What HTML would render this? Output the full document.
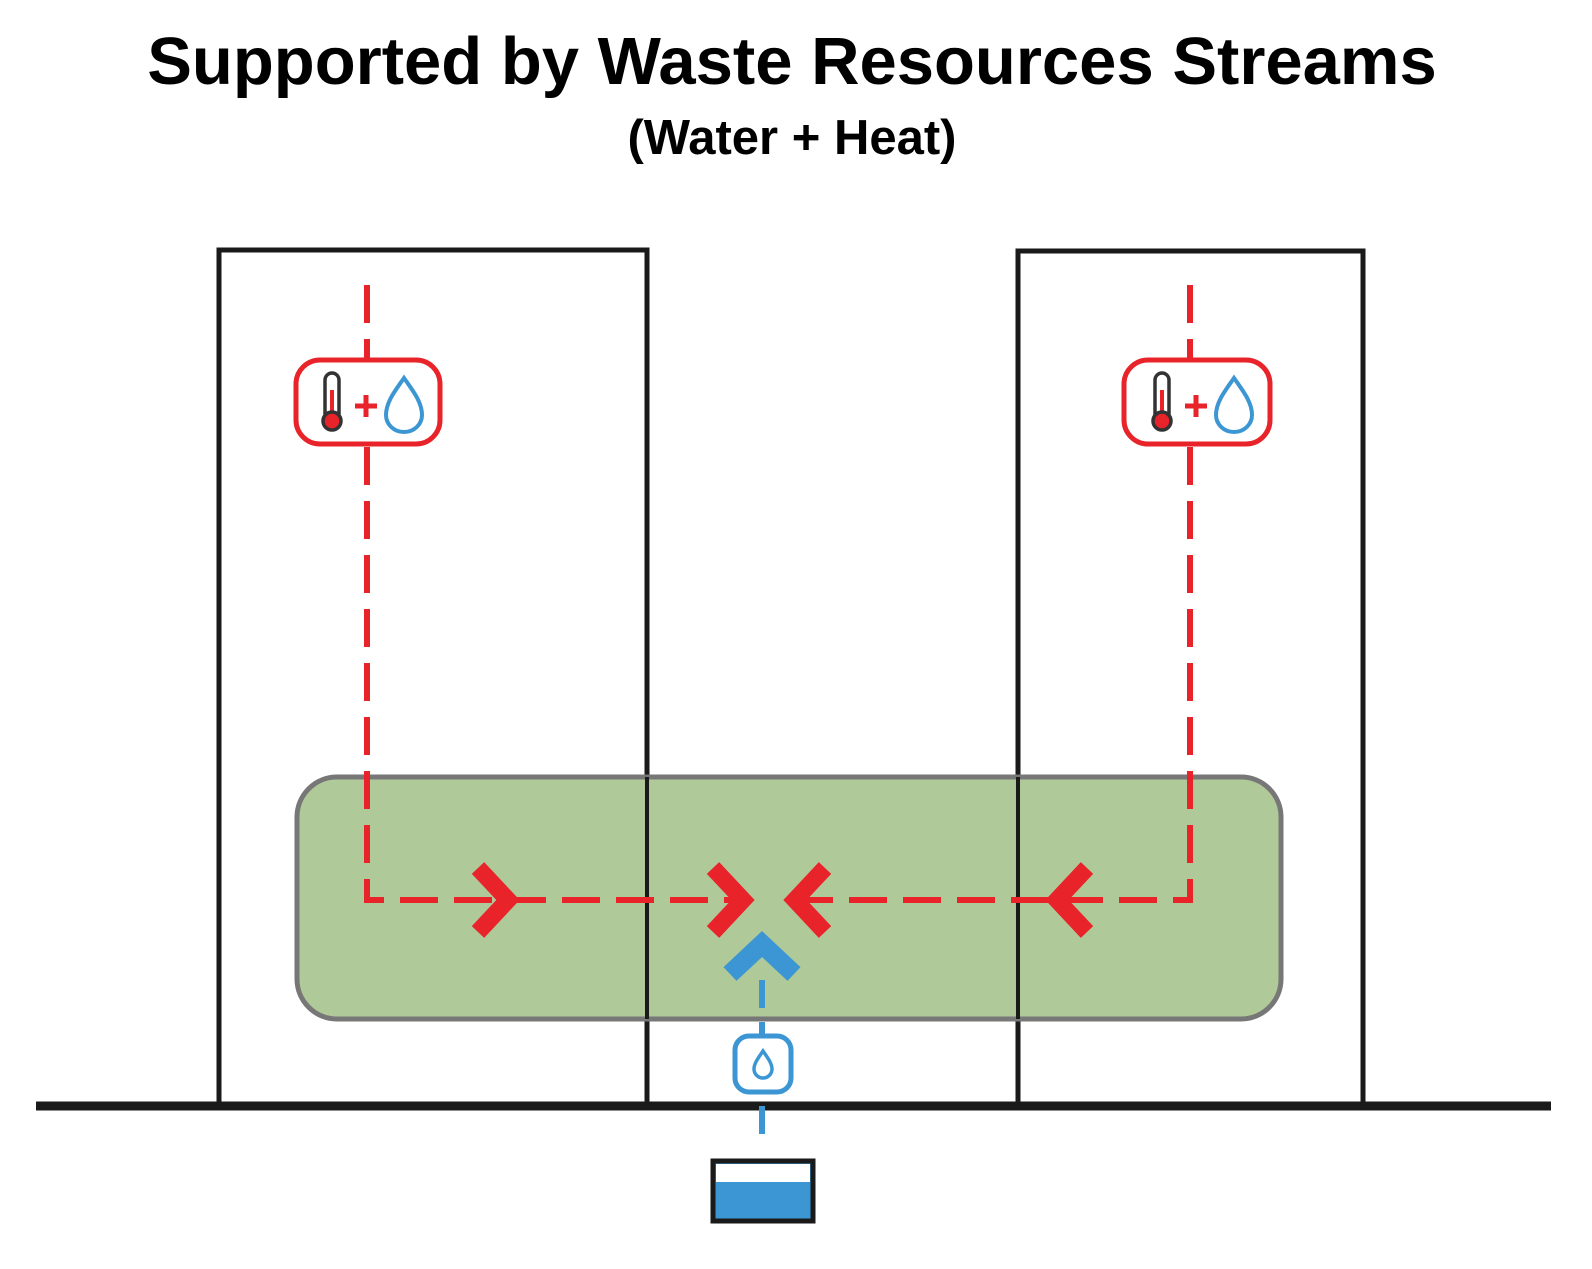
<!DOCTYPE html>
<html><head><meta charset="utf-8"><style>
html,body{margin:0;padding:0;background:#fff}
svg{display:block}
</style></head><body>
<svg width="1592" height="1269" viewBox="0 0 1592 1269" xmlns="http://www.w3.org/2000/svg">
<text x="792" y="84" text-anchor="middle" font-family="Liberation Sans, sans-serif" font-weight="bold" font-size="67" fill="#000">Supported by Waste Resources Streams</text>
<text x="792" y="154" text-anchor="middle" font-family="Liberation Sans, sans-serif" font-weight="bold" font-size="49" fill="#000">(Water + Heat)</text>

<rect x="219" y="250" width="428" height="856" fill="none" stroke="#1a1a1a" stroke-width="5"/>
<rect x="1018" y="251" width="345" height="855" fill="none" stroke="#1a1a1a" stroke-width="5"/>

<rect x="297" y="777" width="984" height="242" rx="40" fill="#adc795" fill-opacity="0.97" stroke="#777" stroke-width="5"/>
<line x1="647" y1="777" x2="647" y2="1019" stroke="#1a1a1a" stroke-width="4"/>
<line x1="1018" y1="777" x2="1018" y2="1019" stroke="#1a1a1a" stroke-width="4"/>

<line x1="36" y1="1106" x2="1551" y2="1106" stroke="#1a1a1a" stroke-width="9"/>

<g stroke="#e8232a" stroke-width="6" fill="none" stroke-dasharray="38,16">
<path d="M367 285 V900 H752"/>
<path d="M1190 285 V900 H790"/>
</g>
<g stroke="#e8232a" stroke-width="17" fill="none" stroke-linejoin="miter" stroke-linecap="butt">
<path d="M478 868 L508 900 L478 932"/>
<path d="M713 868 L743 900 L713 932"/>
<path d="M825 868 L795 900 L825 932"/>
<path d="M1087 868 L1057 900 L1087 932"/>
</g>

<rect x="296" y="360" width="144" height="84" rx="24" fill="#fff" stroke="#e8232a" stroke-width="5"/>
<rect x="1124" y="360" width="146" height="84" rx="24" fill="#fff" stroke="#e8232a" stroke-width="5"/>
<g id="ic">
<rect x="325" y="373" width="14" height="48" rx="7" fill="#fff" stroke="#333" stroke-width="3.5"/>
<line x1="332" y1="390" x2="332" y2="418" stroke="#e8232a" stroke-width="4"/>
<circle cx="332" cy="421" r="9" fill="#e8232a" stroke="#333" stroke-width="3.5"/>
<path d="M355 406 h22 M366 395 v22" stroke="#e8232a" stroke-width="5"/>
<path d="M404 378 C395 391 386 402 386 415 A18 17 0 0 0 422 415 C422 402 413 391 404 378 Z" fill="#fff" stroke="#3c96d3" stroke-width="4"/>
</g>
<use href="#ic" transform="translate(830,0)"/>

<line x1="762" y1="1134" x2="762" y2="970" stroke="#3c96d3" stroke-width="6" stroke-dasharray="28,14"/>
<path d="M730 974 L762 944 L794 974" stroke="#3c96d3" stroke-width="19" fill="none"/>
<rect x="735" y="1036" width="56" height="56" rx="14" fill="#fff" stroke="#3c96d3" stroke-width="5"/>
<path d="M763 1051 C759 1057 754 1063 754 1069 A9 9 0 0 0 772 1069 C772 1063 767 1057 763 1051 Z" fill="#fff" stroke="#3c96d3" stroke-width="3.5"/>
<rect x="713" y="1161" width="100" height="60" fill="#3c96d3" stroke="#1a1a1a" stroke-width="5"/>
<rect x="716" y="1164" width="94" height="18" fill="#fff"/>
</svg>
</body></html>
